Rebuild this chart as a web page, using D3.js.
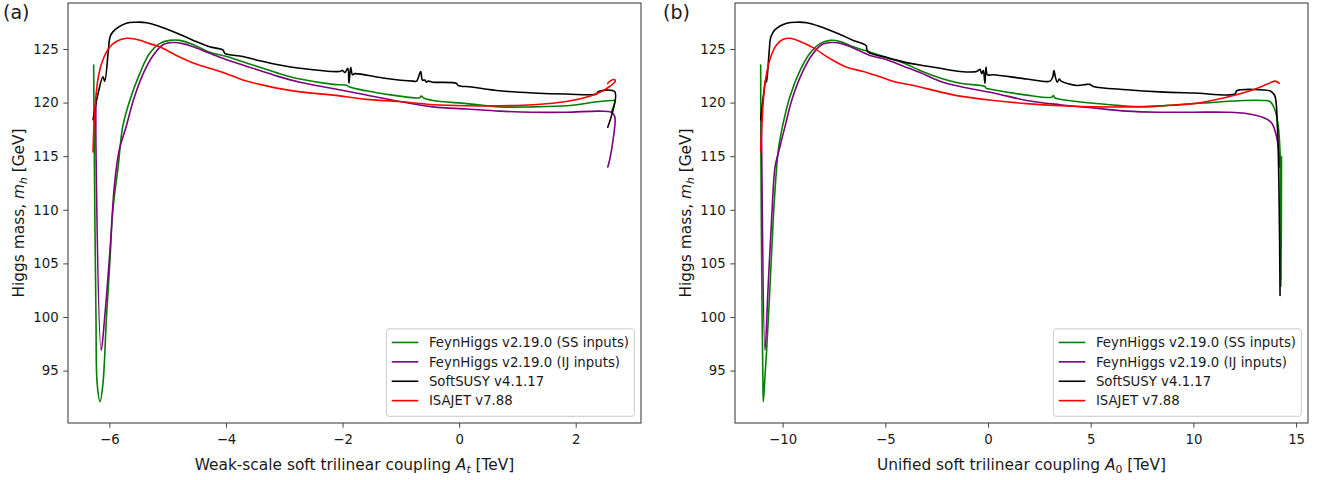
<!DOCTYPE html>
<html><head><meta charset="utf-8">
<script src="https://cdn.jsdelivr.net/npm/d3@7"></script>
<style>
body{margin:0;background:#fff;}
svg{display:block;font-family:"DejaVu Sans",sans-serif;}
</style></head><body>
<svg id="c" width="1322" height="480"></svg>
<script>
// ---------------- data ----------------
const seriesNames = ["FeynHiggs v2.19.0 (SS inputs)", "FeynHiggs v2.19.0 (IJ inputs)", "SoftSUSY v4.1.17", "ISAJET v7.88"];
const seriesColors = ["#008000", "#800080", "#000000", "#ff0000"];
const yTicks = [95, 100, 105, 110, 115, 120, 125];
const aXTicks = [-6, -4, -2, 0, 2];
const bXTicks = [-10, -5, 0, 5, 10, 15];
const panelTags = ["(a)", "(b)"];

// Panel (a): x = A_t [TeV], y = m_h [GeV]
const aGreen = [[-6.27,123.5],[-6.26,115.9],[-6.23,100.0],[-6.21,93.8],[-6.16,92.1],[-6.11,93.8],[-6.05,100.0],[-5.99,105.3],[-5.94,110.0],[-5.85,114.0],[-5.77,117.8],[-5.65,120.2],[-5.48,122.7],[-5.31,124.6],[-5.14,125.5],[-4.97,125.8],[-4.79,125.8],[-4.56,125.4],[-4.28,124.7],[-3.99,124.3],[-3.71,123.8],[-3.42,123.3],[-3.08,122.7],[-2.73,122.2],[-2.16,121.7],[-1.92,121.6],[-1.88,121.45],[-1.59,121.1],[-1.02,120.6],[-0.68,120.45],[-0.65,120.6],[-0.60,120.4],[-0.45,120.2],[0.13,119.9],[0.70,119.6],[1.27,119.6],[1.84,119.7],[2.41,120.1],[2.64,120.2],[2.67,120.2],[2.61,119.1]];
const aPurple = [[-6.23,120.5],[-6.23,115.6],[-6.14,96.9],[-6.08,100.0],[-5.99,106.2],[-5.91,112.5],[-5.83,115.6],[-5.71,117.8],[-5.59,120.2],[-5.42,122.7],[-5.25,124.4],[-5.08,125.4],[-4.91,125.6],[-4.74,125.5],[-4.56,125.2],[-4.28,124.6],[-3.99,124.0],[-3.71,123.5],[-3.42,123.0],[-3.08,122.4],[-2.73,121.9],[-2.16,121.3],[-1.59,120.7],[-1.02,120.1],[-0.45,119.6],[0.13,119.4],[0.70,119.2],[1.27,119.1],[1.84,119.1],[2.41,119.2],[2.61,119.1],[2.67,118.7],[2.64,116.5],[2.58,114.6],[2.55,114.0]];
const aBlack = [[-6.28,118.4],[-6.22,120.2],[-6.11,122.4],[-6.08,122.0],[-6.02,124.7],[-5.99,126.1],[-5.94,126.6],[-5.71,127.4],[-5.54,127.5],[-5.36,127.45],[-5.14,127.1],[-4.85,126.5],[-4.56,125.8],[-4.28,125.2],[-4.05,124.9],[-4.02,124.6],[-3.71,124.3],[-3.42,123.9],[-3.08,123.5],[-2.73,123.2],[-2.05,122.9],[-2.00,123.0],[-1.96,122.8],[-1.91,123.2],[-1.89,121.8],[-1.86,123.3],[-1.83,122.6],[-1.79,122.7],[-1.31,122.3],[-0.79,122.0],[-0.73,122.0],[-0.66,122.9],[-0.63,122.1],[-0.59,122.1],[-0.56,121.9],[-0.53,122.0],[-0.45,121.9],[-0.05,121.8],[-0.02,121.6],[0.07,121.5],[0.13,121.5],[0.70,121.1],[1.27,120.9],[1.84,120.8],[2.36,120.8],[2.38,121.0],[2.67,121.0],[2.55,117.7]];
const aRed = [[-6.28,115.4],[-6.25,119.3],[-6.19,122.4],[-6.11,124.0],[-5.99,125.2],[-5.88,125.7],[-5.71,126.0],[-5.54,125.9],[-5.31,125.5],[-5.14,125.2],[-4.85,124.4],[-4.56,123.7],[-4.28,123.2],[-3.99,122.7],[-3.71,122.1],[-3.42,121.7],[-3.08,121.3],[-2.73,121.0],[-2.16,120.7],[-1.59,120.3],[-1.02,120.1],[-0.45,119.8],[0.13,119.7],[0.70,119.7],[1.27,119.8],[1.84,120.1],[2.24,120.6],[2.47,121.1],[2.58,121.5],[2.65,121.8],[2.68,122.0],[2.66,122.15],[2.60,122.05],[2.55,121.8]];

// Panel (b): x = A_0 [TeV], y = m_h [GeV]
const bGreen = [[-11.07,123.5],[-11.06,115.6],[-11.00,100.0],[-10.96,94.0],[-10.94,92.1],[-10.86,94.5],[-10.78,96.9],[-10.61,103.1],[-10.45,109.4],[-10.29,114.0],[-10.21,115.6],[-9.97,118.1],[-9.64,120.6],[-9.15,123.0],[-8.67,124.6],[-8.18,125.5],[-7.69,125.8],[-7.20,125.7],[-6.56,125.2],[-5.74,124.7],[-4.93,124.2],[-4.12,123.7],[-3.31,123.0],[-2.34,122.3],[-1.36,121.8],[-0.15,121.5],[-0.10,121.35],[0.26,121.2],[1.88,120.7],[3.10,120.5],[3.18,120.65],[3.25,120.45],[4.32,120.1],[5.94,119.8],[7.56,119.6],[9.19,119.8],[10.81,120.0],[12.43,120.2],[13.40,120.2],[13.73,120.1],[13.97,119.3],[14.13,117.8],[14.22,115.3],[14.26,102.8],[14.29,115.0],[14.27,103.5],[14.25,114.5]];
const bPurple = [[-11.03,119.0],[-11.02,115.6],[-10.86,96.9],[-10.70,103.1],[-10.53,109.4],[-10.37,114.0],[-10.21,115.3],[-9.88,117.8],[-9.56,120.2],[-9.07,122.7],[-8.59,124.4],[-8.10,125.4],[-7.61,125.6],[-7.12,125.5],[-6.56,125.1],[-5.74,124.4],[-4.93,124.0],[-4.12,123.4],[-3.31,122.8],[-2.34,122.0],[-1.36,121.5],[0.26,120.9],[1.88,120.2],[3.51,119.8],[5.13,119.5],[6.75,119.2],[8.37,119.1],[9.99,119.1],[11.62,119.1],[12.50,119.0],[13.40,118.6],[13.81,118.1],[14.05,116.8],[14.17,115.3],[14.18,114.0]];
const bBlack = [[-11.07,118.4],[-10.94,120.6],[-10.81,122.3],[-10.78,121.9],[-10.65,124.9],[-10.58,126.1],[-10.37,126.8],[-9.80,127.4],[-9.31,127.5],[-8.83,127.45],[-8.18,127.1],[-7.37,126.5],[-6.56,125.8],[-5.93,125.3],[-5.91,125.0],[-5.83,124.7],[-4.93,124.2],[-4.12,123.8],[-3.31,123.5],[-2.34,123.2],[-1.36,122.9],[-0.55,122.9],[-0.39,123.1],[-0.31,122.7],[-0.23,123.0],[-0.15,121.8],[-0.10,123.3],[-0.03,122.6],[0.26,122.6],[1.88,122.2],[3.02,122.0],[3.15,122.4],[3.21,123.0],[3.29,122.3],[3.37,121.9],[3.47,122.2],[3.56,122.0],[4.32,121.6],[4.80,121.7],[4.95,121.7],[5.13,121.5],[6.75,121.2],[8.37,121.0],[9.99,120.9],[12.03,120.8],[12.11,121.1],[13.73,121.1],[13.81,121.0],[13.97,120.6],[14.09,117.8],[14.17,111.5],[14.22,102.0]];
const bRed = [[-11.07,115.4],[-10.99,118.7],[-10.86,121.8],[-10.61,124.1],[-10.29,125.4],[-9.97,125.9],[-9.64,126.0],[-9.15,125.7],[-8.50,125.1],[-7.69,124.1],[-6.88,123.3],[-6.07,122.9],[-5.26,122.4],[-4.45,121.9],[-3.64,121.6],[-2.34,121.0],[-1.36,120.6],[0.26,120.2],[1.88,119.9],[3.51,119.7],[5.13,119.6],[6.75,119.6],[8.37,119.7],[9.99,119.9],[11.62,120.5],[12.76,121.1],[13.57,121.7],[13.97,122.0],[14.18,121.8]];

// ---------------- layout ----------------
const FS = 13.3;      // ticks & legend
const LFS = 15.4;     // axis labels
const plotTop = 3, plotBottom = 423;
const yDomain = [90.11, 129.29];
const panels = [
  { left: 68, right: 641, xDomain: [-6.71, 3.12], ticks: aXTicks, series: [aGreen, aPurple, aBlack, aRed],
    tag: panelTags[0], tagX: 3, xlabel: ["Weak-scale soft trilinear coupling ", "A", "t", true] },
  { left: 735, right: 1308, xDomain: [-12.32, 15.58], ticks: bXTicks, series: [bGreen, bPurple, bBlack, bRed],
    tag: panelTags[1], tagX: 663, xlabel: ["Unified soft trilinear coupling ", "A", "0", false] }
];

const svg = d3.select("#c");
const spineColor = "#444";
const textColor = "#1a1a1a";

panels.forEach(p => {
  const x = d3.scaleLinear().domain(p.xDomain).range([p.left, p.right]);
  const y = d3.scaleLinear().domain(yDomain).range([plotBottom, plotTop]);
  const g = svg.append("g");

  const cid = "clip" + p.left;
  svg.append("clipPath").attr("id", cid).append("rect")
    .attr("x", p.left).attr("y", plotTop).attr("width", p.right - p.left).attr("height", plotBottom - plotTop);

  const line = d3.line().curve(d3.curveCatmullRom.alpha(0.5)).x(d => x(d[0])).y(d => y(d[1]));
  const lg = g.append("g").attr("clip-path", `url(#${cid})`);
  p.series.forEach((s, i) => {
    lg.append("path").attr("d", line(s)).attr("fill", "none")
      .attr("stroke", seriesColors[i]).attr("stroke-width", 1.6)
      .attr("stroke-linejoin", "round").attr("stroke-linecap", "round");
  });

  const xa = g.append("g").attr("transform", `translate(0,${plotBottom})`)
    .call(d3.axisBottom(x).tickValues(p.ticks).tickSize(4.7).tickSizeOuter(0).tickPadding(7.2));
  const ya = g.append("g").attr("transform", `translate(${p.left},0)`)
    .call(d3.axisLeft(y).tickValues(yTicks).tickSize(4.7).tickSizeOuter(0).tickPadding(4.7));
  [xa, ya].forEach(a => {
    a.select(".domain").remove();
    a.attr("font-family", "DejaVu Sans").attr("font-size", FS);
    a.selectAll("line").attr("stroke", spineColor).attr("stroke-width", 1);
    a.selectAll("text").attr("fill", textColor);
  });

  g.append("rect").attr("x", p.left).attr("y", plotTop).attr("width", p.right - p.left).attr("height", plotBottom - plotTop)
    .attr("fill", "none").attr("stroke", spineColor).attr("stroke-width", 1.1);

  // x label
  const cx = (p.left + p.right) / 2;
  const xl = g.append("text").attr("x", cx).attr("y", 469.5).attr("text-anchor", "middle")
    .attr("font-size", LFS).attr("fill", textColor);
  xl.append("tspan").text(p.xlabel[0]);
  xl.append("tspan").attr("font-style", "italic").text(p.xlabel[1]);
  xl.append("tspan").attr("font-size", LFS * 0.7).attr("dy", 3)
    .attr("font-style", p.xlabel[3] ? "italic" : "normal").text(p.xlabel[2]);
  xl.append("tspan").attr("dy", -3).text(" [TeV]");

  // y label
  const cy = (plotTop + plotBottom) / 2;
  const ylx = p.left - 44;
  const yl = g.append("text").attr("transform", `translate(${ylx},${cy}) rotate(-90)`)
    .attr("text-anchor", "middle").attr("font-size", LFS).attr("fill", textColor);
  yl.append("tspan").text("Higgs mass, ");
  yl.append("tspan").attr("font-style", "italic").text("m");
  yl.append("tspan").attr("font-style", "italic").attr("font-size", LFS * 0.7).attr("dy", 3).text("h");
  yl.append("tspan").attr("dy", -3).text(" [GeV]");

  // panel tag
  svg.append("text").attr("x", p.tagX).attr("y", 19).attr("font-size", 19).attr("fill", textColor).text(p.tag);

  // legend
  const legRight = p.right - 6.65, legBottom = plotBottom - 6.65;
  const rowH = 19.4, padTop = 13.6;
  const legH = 87.5;
  const legTop = legBottom - legH;
  const lgG = g.append("g");
  const frame = lgG.append("rect");
  const texts = seriesNames.map((n, i) => lgG.append("text").attr("font-size", FS).attr("fill", textColor)
    .attr("y", legTop + padTop + i * rowH).attr("dy", "0.35em").text(n));
  const maxW = d3.max(texts, t => t.node().getComputedTextLength());
  const textX = legRight - 5.3 - maxW;
  texts.forEach(t => t.attr("x", textX));
  const hx1 = textX - 10.6, hx0 = hx1 - 26.6;
  seriesNames.forEach((n, i) => {
    lgG.append("line").attr("x1", hx0).attr("x2", hx1)
      .attr("y1", legTop + padTop + i * rowH).attr("y2", legTop + padTop + i * rowH)
      .attr("stroke", seriesColors[i]).attr("stroke-width", 1.6);
  });
  const legLeft = hx0 - 5.3;
  frame.attr("x", legLeft).attr("y", legTop).attr("width", legRight - legLeft).attr("height", legH)
    .attr("rx", 2.7).attr("fill", "#fff").attr("fill-opacity", 0.8).attr("stroke", "#cccccc").attr("stroke-width", 1);
});
</script>
</body></html>
